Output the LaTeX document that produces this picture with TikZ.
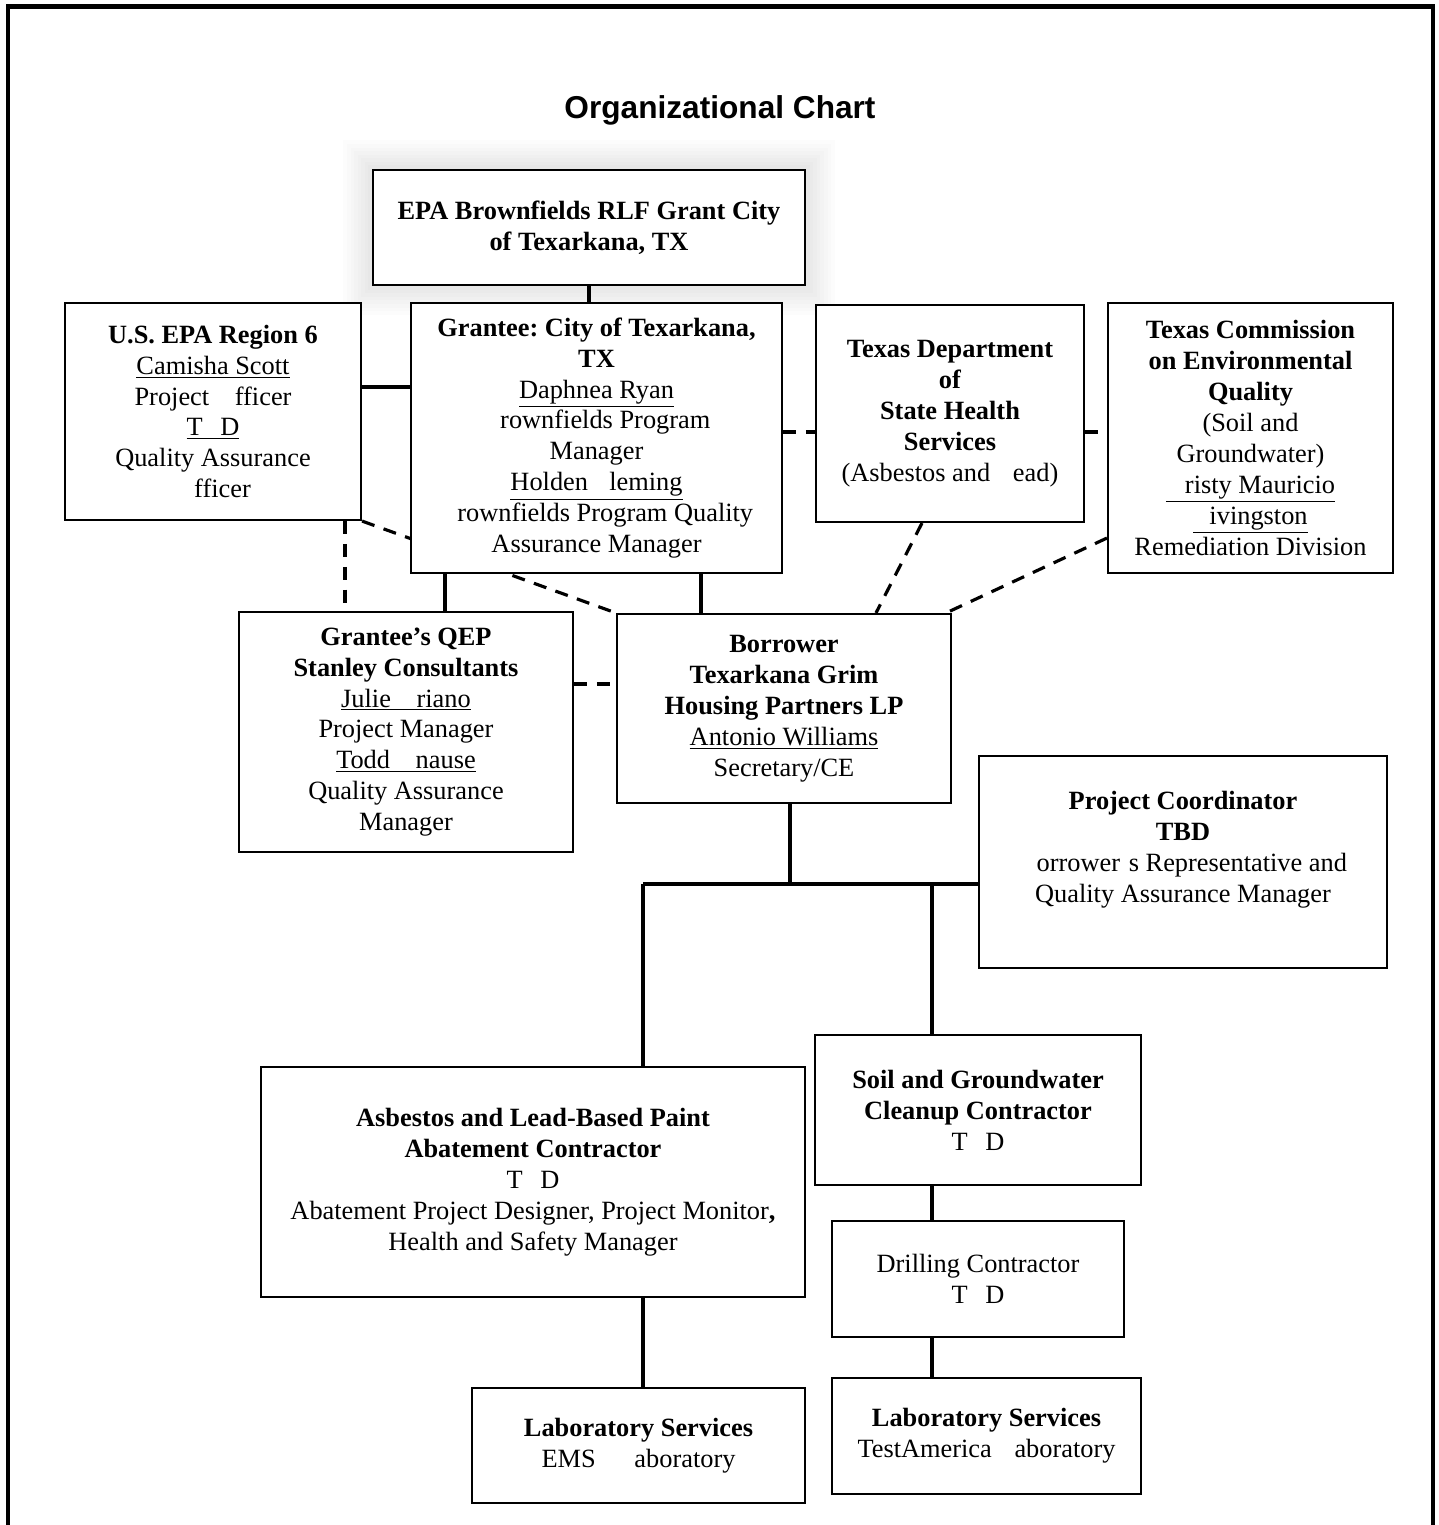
\documentclass[tikz,border=0pt]{standalone}
\usepackage{fontspec}
\setmainfont{Liberation Serif}
\newfontfamily\titlefont{Liberation Sans}
\usetikzlibrary{backgrounds}
\frenchspacing

\begin{document}
\begin{tikzpicture}[%
% common options for the boxes:
box/.style = {draw, line width=1.2pt, fill=white, align=center, inner sep=2pt,
            font=\fontsize{15}{17.6}\selectfont},
% common options for the connectors:
link/.style = {line width=2pt},
dashlink/.style = {line width=1.8pt, dash pattern=on 7.5pt off 5.5pt}]
\useasboundingbox (0,0) rectangle (28.78,-30.5);
\draw[line width=2.3pt] (0.16,-30.6) -- (0.16,-0.13) -- (28.66,-0.13) -- (28.66,-30.6);
\node (title) at (14.4,-2.2) {\titlefont\bfseries\fontsize{18}{21}\selectfont Organizational Chart};
\node[box, line width=1.6pt, minimum width=8.64cm, minimum height=2.3cm] (top) at (11.78,-4.55)
  {\textbf{EPA Brownfields RLF Grant City}\\ \textbf{of Texarkana, TX}};
\node[box, minimum width=5.92cm, minimum height=4.34cm] (region) at (4.26,-8.23)
  {\textbf{U.S. EPA Region 6}\\ \underline{Camisha Scott}\\ Project \phantom{O}fficer\\
   \underline{T\phantom{B}D}\\ Quality Assurance\\ \phantom{O}fficer};
\node[box, minimum width=7.42cm, minimum height=5.4cm] (grantee) at (11.93,-8.76)
  {\textbf{Grantee: City of Texarkana,}\\ \textbf{TX}\\ \underline{Daphnea Ryan}\\
   \phantom{B}rownfields Program\\ Manager\\ \underline{Holden \phantom{F}leming}\\
   \phantom{B}rownfields Program Quality\\ Assurance Manager};
\node[box, minimum width=5.36cm, minimum height=4.34cm] (dshs) at (19.0,-8.27)
  {\textbf{Texas Department}\\ \textbf{of}\\ \textbf{State Health}\\ \textbf{Services}\\
   (Asbestos and \phantom{L}ead)};
\node[box, minimum width=5.7cm, minimum height=5.4cm] (tceq) at (25.01,-8.76)
  {\textbf{Texas Commission}\\ \textbf{on Environmental}\\ \textbf{Quality}\\ (Soil and\\
   Groundwater)\\ \underline{\phantom{K}risty Mauricio}\\ \underline{\phantom{L}ivingston}\\
   Remediation Division};
\node[box, minimum width=6.68cm, minimum height=4.8cm] (qep) at (8.12,-14.64)
  {\textbf{Grantee’s QEP}\\ \textbf{Stanley Consultants}\\ \underline{Julie \phantom{O}riano}\\
   Project Manager\\ \underline{Todd \phantom{K}nause}\\ Quality Assurance\\ Manager};
\node[box, minimum width=6.68cm, minimum height=3.78cm] (borrower) at (15.68,-14.17)
  {\textbf{Borrower}\\ \textbf{Texarkana Grim}\\ \textbf{Housing Partners LP}\\
   \underline{Antonio Williams}\\ Secretary/CE};
\node[box, minimum width=8.16cm, minimum height=4.24cm] (coord) at (23.66,-17.24)
  {\textbf{Project Coordinator}\\ \textbf{TBD}\\ \phantom{B}orrower\phantom{’}s Representative and\\
   Quality Assurance Manager\\ \mbox{}};
\node[box, minimum width=10.88cm, minimum height=4.6cm] (abate) at (10.66,-23.64)
  {\textbf{Asbestos and Lead-Based Paint}\\ \textbf{Abatement Contractor}\\ T\phantom{B}D\\
   Abatement Project Designer, Project Monitor\textbf{,}\\ Health and Safety Manager};
\node[box, minimum width=6.52cm, minimum height=3.0cm] (soil) at (19.56,-22.2)
  {\textbf{Soil and Groundwater}\\ \textbf{Cleanup Contractor}\\ T\phantom{B}D};
\node[box, minimum width=5.84cm, minimum height=2.32cm] (drill) at (19.56,-25.58)
  {Drilling Contractor\\ T\phantom{B}D};
\node[box, minimum width=6.66cm, minimum height=2.3cm] (labems) at (12.77,-28.91)
  {\textbf{Laboratory Services}\\ EMS\phantom{L} \phantom{L}aboratory};
\node[box, minimum width=6.18cm, minimum height=2.32cm] (labta) at (19.73,-28.72)
  {\textbf{Laboratory Services}\\ TestAmerica \phantom{L}aboratory};
\begin{scope}[on background layer]
% faint glow round the top box
\foreach \d in {2,4,...,16}
  \fill[black, opacity=0.012] ([shift={(-\d pt,\d pt)}]top.north west) rectangle ([shift={(\d pt,-\d pt)}]top.south east);
% connectors
\coordinate (regionR) at ([yshift=0.49cm]region.east);
\coordinate (regionB) at ([xshift=-0.34cm]region.south east);
\coordinate (dshsL) at ([yshift=-0.37cm]dshs.west);
\coordinate (dshsR) at ([yshift=-0.37cm]dshs.east);
\coordinate (granteeL) at ([xshift=0.7cm]grantee.south west);
\coordinate (granteeR) at ([xshift=-1.64cm]grantee.south east);
\coordinate (qepR) at ([yshift=0.96cm]qep.east);
\coordinate (bus) at (15.8,-17.68);
\coordinate (busL) at (12.86,-17.68);
\coordinate (soilTop) at ([xshift=-0.92cm]soil.north);
\draw[link] (top.south) -- (top.south |- grantee.north);
\draw[link] (regionR) -- (regionR -| grantee.west);
\draw[dashlink] (dshsL -| grantee.east) -- (dshsL);
\draw[dashlink] (dshsR) -- (dshsR -| tceq.west);
\draw[dashlink] (regionB) -- (regionB |- qep.north);
\draw[dashlink] (region.south east) -- (borrower.north west);
\draw[link] (granteeL) -- (granteeL |- qep.north);
\draw[link] (granteeR) -- (granteeR |- borrower.north);
\draw[dashlink] ([xshift=-0.56cm]dshs.south) -- ([xshift=1.84cm]borrower.north);
\draw[dashlink] ([yshift=0.72cm]tceq.south west) -- ([xshift=-0.12cm]borrower.north east);
\draw[dashlink] (qepR) -- (qepR -| borrower.west);
\draw[link] (bus |- borrower.south) -- (bus);
\draw[link] (busL) -- (busL -| coord.west);
\draw[link] (busL) -- (busL |- abate.north);
\draw[link] (soilTop) -- (soilTop |- bus);
\draw[link] (soilTop |- soil.south) -- (soilTop |- drill.north);
\draw[link] (soilTop |- drill.south) -- (soilTop |- labta.north);
\draw[link] (busL |- abate.south) -- (busL |- labems.north);
\end{scope}
\end{tikzpicture}
\end{document}
